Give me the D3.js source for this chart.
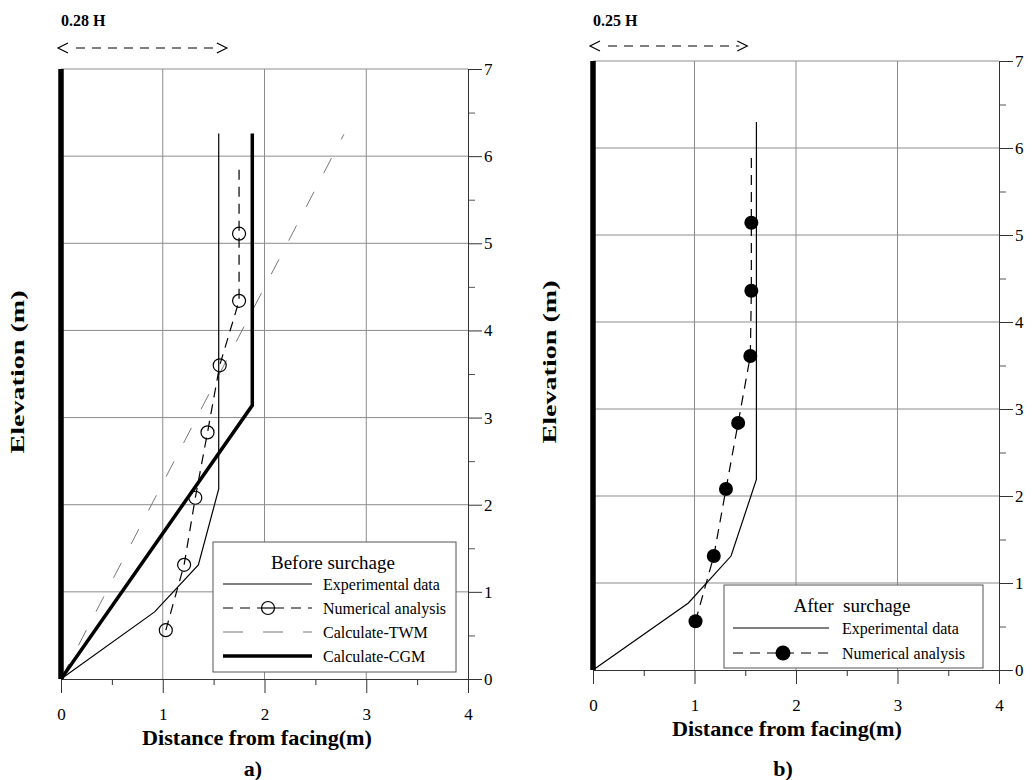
<!DOCTYPE html>
<html lang="en">
<head>
<meta charset="UTF-8">
<title>Facing displacement</title>
<script src="https://d3js.org/d3.v7.min.js"></script>
<style>
    body { margin: 0; background: #fff; }
    text { font-family: "Liberation Serif", "Times New Roman", serif; fill: #000; }
</style>
</head>
<body>
<script>
    // ticks
    const xTicks = [0, 1, 2, 3, 4];
    const xMinor = [0.5, 1.5, 2.5, 3.5];
    const yTicks = [0, 1, 2, 3, 4, 5, 6, 7];
    const yMinor = [0.5, 1.5, 2.5, 3.5, 4.5, 5.5, 6.5];

    // panel a) before surcharge  [distance, elevation]
    const facing = [[0, 0], [0, 7]];
    const experimentalA = [[0, 0], [0.92, 0.77], [1.35, 1.31], [1.55, 2.18], [1.55, 6.26]];
    const numericalA = [[1.03, 0.56], [1.21, 1.31], [1.32, 2.08], [1.44, 2.83], [1.56, 3.6], [1.75, 4.34], [1.75, 5.11]];
    const numericalEndA = [1.75, 5.86];
    const twmA = [[0, 0], [2.78, 6.25]];
    const cgmA = [[0, 0], [1.88, 3.14], [1.88, 6.26]];
    const arrowEndA = 1.63;

    // panel b) after surcharge
    const experimentalB = [[0, 0], [0.94, 0.77], [1.36, 1.31], [1.61, 2.19], [1.61, 6.3]];
    const numericalB = [[1.01, 0.56], [1.19, 1.31], [1.31, 2.08], [1.43, 2.84], [1.55, 3.61], [1.56, 4.36], [1.56, 5.14]];
    const numericalEndB = [1.56, 5.9];
    const arrowEndB = 1.52;

    var width = 1032, height = 780;
    var svg = d3.select("body").append("svg")
        .attr("width", width)
        .attr("height", height);

    function drawPanel(o) {
        var x = d3.scaleLinear().domain([0, 4]).range([o.left, o.right]);
        var y = d3.scaleLinear().domain([0, 7]).range([o.bottom, o.top]);
        var g = svg.append("g");
        var line = d3.line().x(d => x(d[0])).y(d => y(d[1]));

        // grid
        g.append("g").selectAll("line")
            .data(yTicks.filter(d => d > 0))
            .join("line")
            .attr("x1", x(0)).attr("x2", x(4))
            .attr("y1", d => y(d)).attr("y2", d => y(d))
            .attr("stroke", "#8c8c8c").attr("stroke-width", 1);
        g.append("g").selectAll("line")
            .data([1, 2, 3])
            .join("line")
            .attr("x1", d => x(d)).attr("x2", d => x(d))
            .attr("y1", y(0)).attr("y2", y(7))
            .attr("stroke", "#8c8c8c").attr("stroke-width", 1);

        // bottom axis
        g.append("g")
            .attr("transform", "translate(0," + y(0) + ")")
            .call(d3.axisBottom(x).tickValues(xMinor).tickSize(6).tickFormat("").tickSizeOuter(0))
            .call(a => a.select(".domain").remove())
            .call(a => a.selectAll("line").attr("stroke", "#333"));
        g.append("g")
            .attr("transform", "translate(0," + y(0) + ")")
            .call(d3.axisBottom(x).tickValues(xTicks).tickSize(14).tickSizeOuter(0).tickFormat(d3.format("d")))
            .attr("font-size", 17).attr("font-family", null)
            .call(a => a.select(".domain").attr("stroke", "#333"))
            .call(a => a.selectAll("line").attr("stroke", "#333"))
            .call(a => a.selectAll("text").attr("y", 41).attr("dy", 0));

        // right axis
        g.append("g")
            .attr("transform", "translate(" + x(4) + ",0)")
            .call(d3.axisRight(y).tickValues(yMinor).tickSize(7).tickFormat("").tickSizeOuter(0))
            .call(a => a.select(".domain").remove())
            .call(a => a.selectAll("line").attr("stroke", "#555"));
        g.append("g")
            .attr("transform", "translate(" + x(4) + ",0)")
            .call(d3.axisRight(y).tickValues(yTicks).tickSize(14).tickSizeOuter(0).tickFormat(d3.format("d")))
            .attr("font-size", 17).attr("font-family", null)
            .call(a => a.select(".domain").attr("stroke", "#333"))
            .call(a => a.selectAll("line").attr("stroke", "#333"))
            .call(a => a.selectAll("text").attr("x", 16).attr("text-anchor", "start"));

        // titles
        g.append("text")
            .attr("x", o.titleX).attr("y", y(0) + 66)
            .attr("text-anchor", "middle")
            .attr("font-weight", "bold").attr("font-size", 21)
            .attr("textLength", 230).attr("lengthAdjust", "spacingAndGlyphs")
            .text("Distance from facing(m)");
        g.append("text")
            .attr("x", o.titleX - 4).attr("y", 776)
            .attr("text-anchor", "middle")
            .attr("font-weight", "bold").attr("font-size", 22)
            .text(o.letter);
        g.append("text")
            .attr("transform", "translate(" + o.yTitleX + "," + o.yTitleY + ") rotate(-90)")
            .attr("text-anchor", "middle")
            .attr("font-weight", "bold").attr("font-size", 19)
            .attr("textLength", 163).attr("lengthAdjust", "spacingAndGlyphs")
            .text("Elevation (m)");

        // H marker
        g.append("text")
            .attr("x", x(0)).attr("y", 26)
            .attr("font-weight", "bold").attr("font-size", 16)
            .text(o.hLabel);
        var ay = o.arrowY, x0 = x(0) - 3, x1 = x(o.arrowEnd);
        g.append("path")
            .attr("d", "M" + (x0 + 10) + "," + (ay - 5) + "L" + x0 + "," + ay + "L" + (x0 + 10) + "," + (ay + 5) +
                "M" + (x1 - 10) + "," + (ay - 5) + "L" + x1 + "," + ay + "L" + (x1 - 10) + "," + (ay + 5))
            .attr("fill", "none").attr("stroke", "#000").attr("stroke-width", 1.2);
        g.append("line")
            .attr("x1", x0 + 18).attr("x2", x1 - 8)
            .attr("y1", ay).attr("y2", ay)
            .attr("stroke", "#000").attr("stroke-width", 1.2)
            .attr("stroke-dasharray", "9,7");

        // facing
        g.append("path").attr("d", line(facing))
            .attr("fill", "none").attr("stroke", "#000").attr("stroke-width", 5.5);

        return { x: x, y: y, g: g, line: line };
    }

    // ---- panel a
    var pa = drawPanel({
        left: 61, right: 468, top: 69, bottom: 679,
        titleX: 257, yTitleX: 24, yTitleY: 372, letter: "a)",
        hLabel: "0.28 H", arrowY: 48, arrowEnd: arrowEndA
    });

    pa.g.append("path").attr("d", pa.line(twmA))
        .attr("fill", "none").attr("stroke", "#777").attr("stroke-width", 1)
        .attr("stroke-dasharray", "17,21");
    pa.g.append("path").attr("d", pa.line(experimentalA))
        .attr("fill", "none").attr("stroke", "#000").attr("stroke-width", 1.2);
    pa.g.append("path").attr("d", pa.line(cgmA))
        .attr("fill", "none").attr("stroke", "#000").attr("stroke-width", 3.5);
    pa.g.append("path").attr("d", pa.line(numericalA.concat([numericalEndA])))
        .attr("fill", "none").attr("stroke", "#000").attr("stroke-width", 1.2)
        .attr("stroke-dasharray", "10,7");
    pa.g.selectAll("circle.num")
        .data(numericalA)
        .join("circle")
        .attr("cx", d => pa.x(d[0])).attr("cy", d => pa.y(d[1]))
        .attr("r", 6.5)
        .attr("fill", "none").attr("stroke", "#000").attr("stroke-width", 1.2);

    // legend a
    var la = svg.append("g").attr("transform", "translate(213,542)");
    la.append("rect").attr("width", 243).attr("height", 130)
        .attr("fill", "#fff").attr("stroke", "#555").attr("stroke-width", 1);
    la.append("text").attr("x", 120).attr("y", 27).attr("text-anchor", "middle")
        .attr("font-size", 19).text("Before surchage");
    var legA = [
        { name: "Experimental data", color: "#000", w: 1.2, dash: null, marker: false },
        { name: "Numerical analysis", color: "#000", w: 1.2, dash: "10,7", marker: true },
        { name: "Calculate-TWM", color: "#777", w: 1, dash: "20,20", marker: false },
        { name: "Calculate-CGM", color: "#000", w: 3.5, dash: null, marker: false }
    ];
    legA.forEach(function (d, i) {
        var ry = 42 + i * 24;
        la.append("line").attr("x1", 10).attr("x2", 99).attr("y1", ry).attr("y2", ry)
            .attr("stroke", d.color).attr("stroke-width", d.w)
            .attr("stroke-dasharray", d.dash);
        if (d.marker) {
            la.append("circle").attr("cx", 55).attr("cy", ry).attr("r", 6.5)
                .attr("fill", "#fff").attr("stroke", "#000").attr("stroke-width", 1.2);
            la.append("line").attr("x1", 49).attr("x2", 61).attr("y1", ry).attr("y2", ry)
                .attr("stroke", "#000").attr("stroke-width", 1.2);
        }
        la.append("text").attr("x", 110).attr("y", ry + 6).attr("font-size", 16).text(d.name);
    });

    // ---- panel b
    var pb = drawPanel({
        left: 593, right: 999, top: 61, bottom: 670,
        titleX: 787, yTitleX: 556, yTitleY: 362, letter: "b)",
        hLabel: "0.25 H", arrowY: 46, arrowEnd: arrowEndB
    });

    pb.g.append("path").attr("d", pb.line(experimentalB))
        .attr("fill", "none").attr("stroke", "#000").attr("stroke-width", 1.2);
    pb.g.append("path").attr("d", pb.line(numericalB.concat([numericalEndB])))
        .attr("fill", "none").attr("stroke", "#000").attr("stroke-width", 1.2)
        .attr("stroke-dasharray", "10,7");
    pb.g.selectAll("circle.num")
        .data(numericalB)
        .join("circle")
        .attr("cx", d => pb.x(d[0])).attr("cy", d => pb.y(d[1]))
        .attr("r", 7)
        .attr("fill", "#000");

    // legend b
    var lb = svg.append("g").attr("transform", "translate(724,585)");
    lb.append("rect").attr("width", 259).attr("height", 83)
        .attr("fill", "#fff").attr("stroke", "#555").attr("stroke-width", 1);
    lb.append("text").attr("x", 128).attr("y", 27).attr("text-anchor", "middle")
        .attr("font-size", 19).style("white-space", "pre").text("After  surchage");
    var legB = [
        { name: "Experimental data", dash: null, marker: false },
        { name: "Numerical analysis", dash: "10,7", marker: true }
    ];
    legB.forEach(function (d, i) {
        var ry = 43 + i * 25;
        lb.append("line").attr("x1", 9).attr("x2", 105).attr("y1", ry).attr("y2", ry)
            .attr("stroke", "#000").attr("stroke-width", 1.2)
            .attr("stroke-dasharray", d.dash);
        if (d.marker) {
            lb.append("circle").attr("cx", 59).attr("cy", ry).attr("r", 7.5).attr("fill", "#000");
        }
        lb.append("text").attr("x", 118).attr("y", ry + 6).attr("font-size", 16).text(d.name);
    });
</script>
</body>
</html>
